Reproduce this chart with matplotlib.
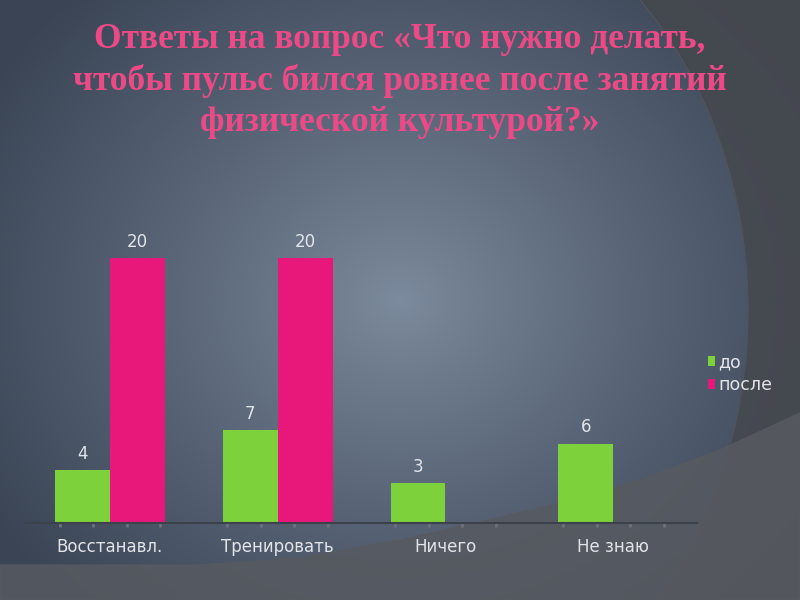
import numpy as np
import matplotlib.pyplot as plt
from matplotlib.patches import Polygon

# данные
categories = ['Восстанавл.', 'Тренировать', 'Ничего', 'Не знаю']
before = [4, 7, 3, 6]
after = [20, 20, 0, 0]
series_names = ['до', 'после']
title = 'Ответы на вопрос «Что нужно делать,\nчтобы пульс бился ровнее после занятий\nфизической культурой?»'

green = '#7dd13a'
pink = '#e8177a'
text_col = '#e2e4e8'

fig = plt.figure(figsize=(8, 6), dpi=100)

# фон: радиальный градиент
bg = fig.add_axes([0, 0, 1, 1])
bg.set_xlim(0, 800)
bg.set_ylim(600, 0)
bg.axis('off')
yy, xx = np.mgrid[0:600, 0:800]
r = np.sqrt(((xx - 400) / 480.0) ** 2 + ((yy - 300) / 420.0) ** 2)
r = np.clip(r, 0, 1) ** 0.9
c0 = np.array([0x7c, 0x8b, 0x9d]) / 255
c1 = np.array([0x3a, 0x44, 0x55]) / 255
img = c0[None, None, :] * (1 - r[..., None]) + c1[None, None, :] * r[..., None]
bg.imshow(img, extent=[0, 800, 600, 0], aspect='auto', zorder=0)

# тёмная область справа (дуга)
ty = np.linspace(0, 600, 80)
tx = 380 + 368 * np.sqrt(np.clip(1 - ((ty - 310) / 438.0) ** 2, 0, 1))
right = np.column_stack([np.r_[tx, 800, 800], np.r_[ty, 600, 0]])
bg.add_patch(Polygon(right, closed=True, color='#45484e', alpha=0.9, zorder=1))
bg.plot(tx, ty, color='#5a6070', lw=1, alpha=0.5, zorder=1)

# серая область снизу
bx = np.array([0, 200, 300, 400, 480, 560, 640, 720, 800])
by = np.array([565, 565, 558, 540, 522, 503, 480, 450, 413])
bottom = np.column_stack([np.r_[bx, 800, 0], np.r_[by, 600, 600]])
bg.add_patch(Polygon(bottom, closed=True, color='#575a60', alpha=0.85, zorder=2))

fig.text(0.5, 1 - 81 / 600, title, ha='center', va='center', color='#ec4a87',
         fontsize=25.5, fontweight='bold', family='Liberation Serif',
         linespacing=1.3)

# диаграмма
ax = fig.add_axes([0.0325, 0.1283, 0.839, 0.4858])
ax.patch.set_alpha(0)
x = np.arange(len(categories))
w = 0.327
b1 = ax.bar(x - w / 2, before, w, color=green, label=series_names[0])
b2 = ax.bar(x + w / 2, after, w, color=pink, label=series_names[1])

for bars, vals in ((b1, before), (b2, after)):
    for rect, v in zip(bars, vals):
        if v:
            ax.text(rect.get_x() + rect.get_width() / 2, v + 0.55, str(v),
                    ha='center', va='bottom', color=text_col, fontsize=12)

ax.set_xlim(-0.5, len(categories) - 0.5)
ax.set_ylim(0, 22)
ax.set_xticks(x)
ax.set_xticklabels(categories, color=text_col, fontsize=12)
ax.tick_params(axis='x', length=0, pad=11)
minor = [i - 0.5 + k * 0.2 for i in range(len(categories)) for k in range(1, 5)]
ax.set_xticks(minor, minor=True)
ax.tick_params(axis='x', which='minor', length=3, width=2, color='#6c727c')
ax.set_yticks([])
for s in ['top', 'right', 'left']:
    ax.spines[s].set_visible(False)
ax.spines['bottom'].set_color('#3c424c')
ax.spines['bottom'].set_linewidth(1.5)

fig.legend(handles=[b1, b2], loc='upper left', bbox_to_anchor=(0.865, 0.437),
           frameon=False, fontsize=12.5, handlelength=0.45, handleheight=0.5,
           handletextpad=0.15, labelspacing=0.25, labelcolor=text_col)

fig.savefig('out.png', dpi=100)
